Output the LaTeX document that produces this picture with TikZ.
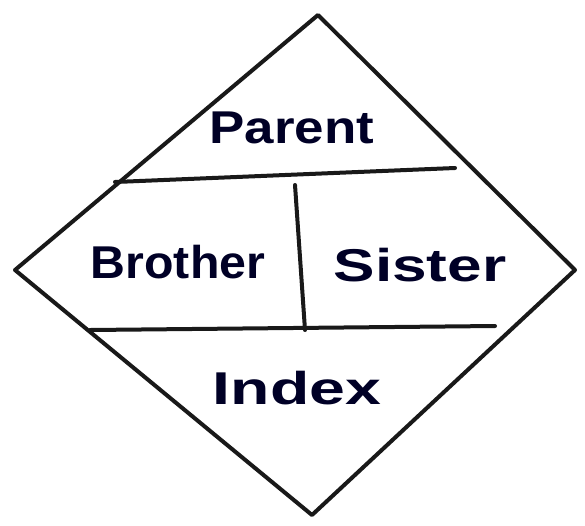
\documentclass[tikz,border=0pt]{standalone}
\usepackage{fontspec}
\setmainfont{Liberation Sans}
\begin{document}
\begin{tikzpicture}[x=1pt,y=-1pt,
  ink/.style={line width=4pt,line cap=round,line join=round,draw=black!90},
  lbl/.style={font=\fontsize{46}{52}\selectfont\bfseries,text=black!85!blue,inner sep=0pt}]
\useasboundingbox (0,0) rectangle (585,525);
\coordinate (T) at (318,15);
\coordinate (R) at (575,270);
\coordinate (B) at (312,515);
\coordinate (L) at (15,270);
\draw[ink] (T) -- (R) -- (B) -- (L) -- cycle;
\coordinate (h1a) at (115,182);
\coordinate (h1b) at (455,168);
\coordinate (h2a) at (90,330);
\coordinate (h2b) at (495,326);
\coordinate (v1a) at (295,185);
\coordinate (v1b) at (305,330);
\draw[ink] (h1a) -- (h1b);
\draw[ink] (h2a) -- (h2b);
\draw[ink] (v1a) -- (v1b);
\node[lbl,xscale=1.15] (parent) at (292,128) {Parent};
\node[lbl,xscale=1.05] (brother) at (178,262) {Brother};
\node[lbl,xscale=1.35] (sister) at (420,265) {Sister};
\node[lbl,xscale=1.4] (index) at (297,388) {Index};
\end{tikzpicture}
\end{document}
